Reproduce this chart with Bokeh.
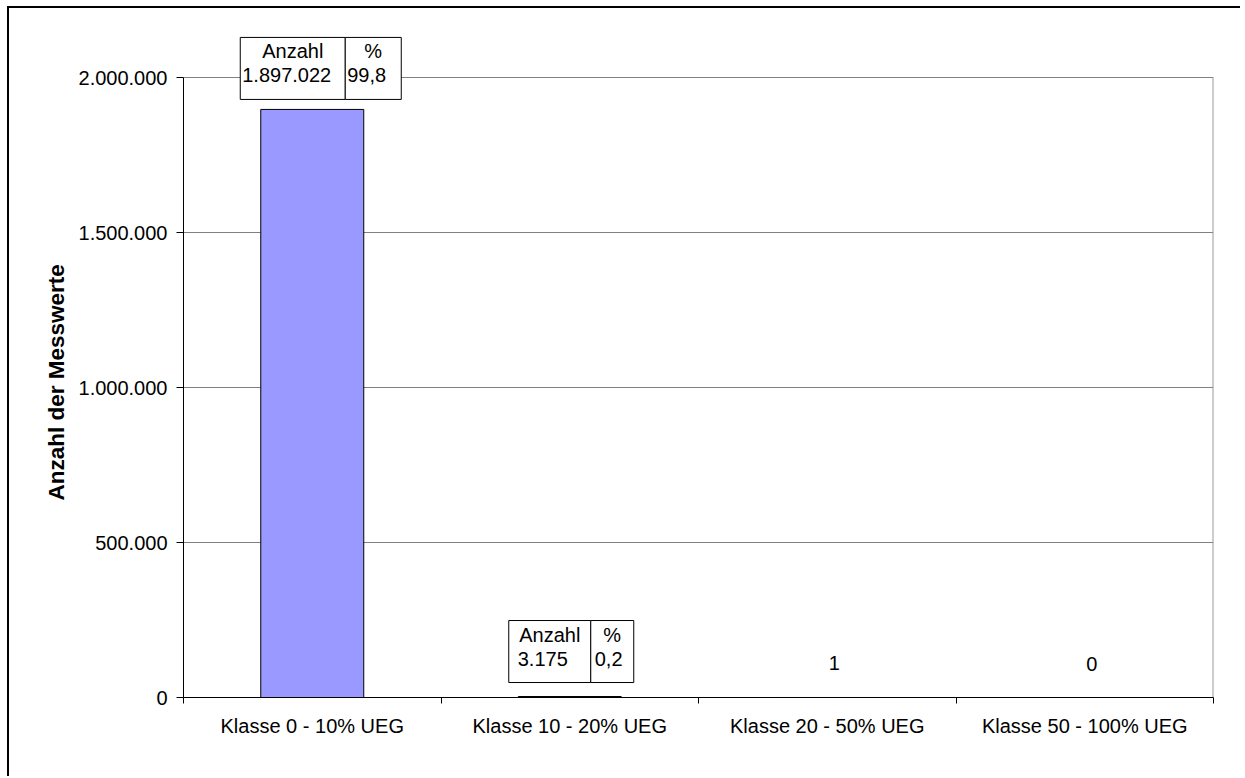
from bokeh.plotting import figure
from bokeh.models import Range1d, FixedTicker, ColumnDataSource, Title
from bokeh.core.properties import value
from bokeh.embed import file_html
from bokeh.resources import INLINE

# --- data -------------------------------------------------------------
categories = ["Klasse 0 - 10% UEG", "Klasse 10 - 20% UEG",
              "Klasse 20 - 50% UEG", "Klasse 50 - 100% UEG"]
counts = [1897022, 3175, 1, 0]
percents = [99.8, 0.2, 0.0, 0.0]
label_kind = ["table", "table", "plain", "plain"]
y_ticks = [0, 500000, 1000000, 1500000, 2000000]


def de_int(v):
    return f"{v:,}".replace(",", ".")


def de_pct(v):
    return f"{v:.1f}".replace(".", ",")


# --- geometry (pixels) ------------------------------------------------
PAD_L, PAD_T = 9, 8                   # outer border offset on the page
W, H = 1245 - PAD_L, 778 - PAD_T
FRAME_L, FRAME_R, FRAME_T, FRAME_B = 183 - PAD_L, 1213 - PAD_L, 17 - PAD_T, 697 - PAD_T
AXIS_TOP_PX = 77 - PAD_T              # pixel row of the 2.000.000 gridline
Y_MAX = y_ticks[-1]
YU = Y_MAX / (FRAME_B - AXIS_TOP_PX)  # data units per pixel (y)
XU = len(categories) / (FRAME_R - FRAME_L)
FONT = value("Liberation Sans")
FS = "20px"

p = figure(width=W, height=H, output_backend="svg", toolbar_location=None,
           x_range=Range1d(0, len(categories)),
           y_range=Range1d(0, YU * (FRAME_B - FRAME_T)),
           min_border_left=FRAME_L, min_border_right=W - FRAME_R,
           min_border_top=FRAME_T, min_border_bottom=H - FRAME_B,
           background_fill_color="white", border_fill_color="white")
p.outline_line_color = None
# outer chart border (left and top edges only)
p.styles = {"position": "absolute", "left": f"{PAD_L}px", "top": f"{PAD_T}px",
            "box-shadow": "-2px -2px 0 0 black",
            "clip-path": "inset(-3px 5px 0 -3px)"}

# bars
xs = [i + 0.5 for i in range(len(categories))]
p.vbar(x=xs, top=counts, width=0.4, bottom=0,
       fill_color="#9999FF", line_color="black", line_width=1)

# right edge of the plot area
p.segment(x0=[len(categories)], y0=[0], x1=[len(categories)], y1=[Y_MAX],
          line_color="#999999", line_width=2)

# x axis: labels at category centres, tick marks between categories
xa = p.xaxis[0]
xa.ticker = FixedTicker(ticks=xs, minor_ticks=list(range(len(categories) + 1)))
xa.major_label_overrides = {x: c for x, c in zip(xs, categories)}
xa.major_tick_out = 0
xa.major_tick_in = 0
xa.minor_tick_out = 6
xa.minor_tick_in = 0
xa.minor_tick_line_color = "black"
xa.axis_line_color = "black"
xa.major_label_text_font = "Liberation Sans"
xa.major_label_text_font_size = FS
xa.major_label_text_color = "black"
xa.major_label_standoff = 11

# y axis
ya = p.yaxis[0]
ya.ticker = FixedTicker(ticks=y_ticks, minor_ticks=[])
ya.major_label_overrides = {t: de_int(t) for t in y_ticks}
ya.bounds = (0, Y_MAX)
ya.major_tick_out = 7
ya.major_tick_in = 0
ya.axis_line_color = "black"
ya.major_tick_line_color = "black"
ya.major_label_text_font = "Liberation Sans"
ya.major_label_text_font_size = FS
ya.major_label_text_color = "black"
ya.major_label_standoff = 9

# y-axis title, starting a fixed distance above the frame bottom
p.add_layout(Title(text="Anzahl der Messwerte", align="left", offset=197,
                   standoff=13, text_font="Liberation Sans",
                   text_font_size="22.5px", text_font_style="bold",
                   text_color="black"), "left")

p.xgrid.visible = False
p.ygrid.ticker = FixedTicker(ticks=y_ticks)
p.ygrid.grid_line_color = "#808080"
p.ygrid.grid_line_width = 1

# --- data labels ------------------------------------------------------
# table-style labels: box offset from bar centre, cell widths, gap above bar
box_left_px = [-72, -61]
cell_w_px = [(105, 56), (82, 43)]
box_gap_px = [10, 14]
box_h_px = 62
val_pad_px = [(2, 2), (9, 4)]

q = dict(left=[], right=[], top=[], bottom=[])
t = dict(x=[], y=[], text=[], dx=[], dy=[], align=[])
k = 0
for i, kind in enumerate(label_kind):
    if kind == "table":
        wl, wr = cell_w_px[k]
        l = xs[i] + box_left_px[k] * XU
        m = l + wl * XU
        r = m + wr * XU
        b = counts[i] + box_gap_px[k] * YU
        top = b + box_h_px * YU
        q["left"] += [l, m]
        q["right"] += [m, r]
        q["bottom"] += [b, b]
        q["top"] += [top, top]
        pl, pr = val_pad_px[k]
        # header row
        t["x"] += [(l + m) / 2, (m + r) / 2]
        t["y"] += [top, top]
        t["text"] += ["Anzahl", "%"]
        t["dx"] += [0, 0]
        t["dy"] += [14, 14]
        t["align"] += ["center", "center"]
        # value row
        t["x"] += [l, m]
        t["y"] += [top, top]
        t["text"] += [de_int(counts[i]), de_pct(percents[i])]
        t["dx"] += [pl, pr]
        t["dy"] += [38, 38]
        t["align"] += ["left", "left"]
        k += 1
    else:
        t["x"].append(xs[i])
        t["y"].append(counts[i])
        t["text"].append(de_int(counts[i]))
        t["dx"].append(7)
        t["dy"].append(-34)
        t["align"].append("center")

p.quad(source=ColumnDataSource(q), left="left", right="right", top="top",
       bottom="bottom", fill_color="white", line_color="black", line_width=1)
p.text(source=ColumnDataSource(t), x="x", y="y", text="text",
       x_offset="dx", y_offset="dy", text_align="align",
       text_baseline="middle", text_font=FONT, text_font_size=FS,
       text_color="black")

open("out.html", "w").write(file_html(p, INLINE))
